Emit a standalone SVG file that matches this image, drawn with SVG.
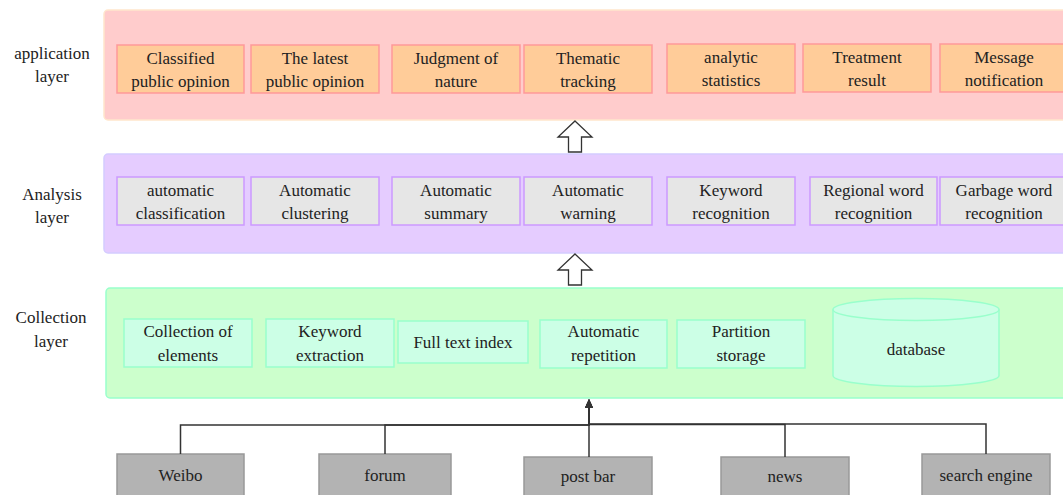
<svg xmlns="http://www.w3.org/2000/svg" width="1063" height="495" viewBox="0 0 1063 495">
<style>
text{font-family:'Liberation Serif','Times New Roman',Tinos,'Noto Serif','Nimbus Roman','FreeSerif',Times,'DejaVu Serif',serif;font-size:17px;fill:#222;text-anchor:middle}
.pa{fill:#FFCCCC;stroke:#FFE6CC;stroke-width:1.5}
.pb{fill:#E5CCFF;stroke:#D4CCFF;stroke-width:1.5}
.pc{fill:#CCFFCC;stroke:#99FFCC;stroke-width:1.5}
.na{fill:#FFCC99;stroke:#FF9999;stroke-width:1.5}
.nb{fill:#E6E6E6;stroke:#CC99FF;stroke-width:1.5}
.nc{fill:#CCFFE6;stroke:#99FFCC;stroke-width:1.5}
.ns{fill:#B3B3B3;stroke:#999999;stroke-width:1.5}
.blk{fill:#FFFFFF;stroke:#333333;stroke-width:1.3}
.edge{fill:none;stroke:#333333;stroke-width:1.5}
</style>
<defs>
<marker id="ah" markerWidth="8" markerHeight="10" refX="4" refY="9" orient="0" markerUnits="userSpaceOnUse">
<path d="M0,9 L4,0 L8,9 Z" fill="#333333"/>
</marker>
</defs>

<g id="layer-labels">
<text x="52" y="59">application</text><text x="52" y="82">layer</text>
<text x="52" y="200">Analysis</text><text x="52" y="223">layer</text>
<text x="51" y="323">Collection</text><text x="51" y="347">layer</text>
</g>

<g id="application-layer"><rect class="pa" x="104" y="10" width="970" height="110" rx="4"/></g>
<g id="analysis-layer"><rect class="pb" x="104" y="154" width="970" height="99" rx="4"/></g>
<g id="collection-layer"><rect class="pc" x="106" y="288" width="970" height="110" rx="4"/></g>

<g id="app-classified"><rect class="na" x="117" y="45" width="127" height="48"/><text x="180.5" y="64">Classified</text><text x="180.5" y="87">public opinion</text></g>
<g id="app-latest"><rect class="na" x="251" y="45" width="128" height="48"/><text x="315" y="64">The latest</text><text x="315" y="87">public opinion</text></g>
<g id="app-judgment"><rect class="na" x="392" y="45" width="128" height="48"/><text x="456" y="64">Judgment of</text><text x="456" y="87">nature</text></g>
<g id="app-thematic"><rect class="na" x="524" y="45" width="128" height="48"/><text x="588" y="64">Thematic</text><text x="588" y="87">tracking</text></g>
<g id="app-analytic"><rect class="na" x="667" y="44" width="128" height="49"/><text x="731" y="63">analytic</text><text x="731" y="86">statistics</text></g>
<g id="app-treatment"><rect class="na" x="803" y="44" width="128" height="48"/><text x="867" y="63">Treatment</text><text x="867" y="86">result</text></g>
<g id="app-message"><rect class="na" x="940" y="44" width="128" height="48"/><text x="1004" y="63">Message</text><text x="1004" y="86">notification</text></g>

<g id="ana-classification"><rect class="nb" x="117" y="177" width="127" height="48"/><text x="180.5" y="196">automatic</text><text x="180.5" y="219">classification</text></g>
<g id="ana-clustering"><rect class="nb" x="251" y="177" width="128" height="48"/><text x="315" y="196">Automatic</text><text x="315" y="219">clustering</text></g>
<g id="ana-summary"><rect class="nb" x="392" y="177" width="128" height="48"/><text x="456" y="196">Automatic</text><text x="456" y="219">summary</text></g>
<g id="ana-warning"><rect class="nb" x="524" y="177" width="128" height="48"/><text x="588" y="196">Automatic</text><text x="588" y="219">warning</text></g>
<g id="ana-keyword"><rect class="nb" x="667" y="177" width="128" height="48"/><text x="731" y="196">Keyword</text><text x="731" y="219">recognition</text></g>
<g id="ana-regional"><rect class="nb" x="810" y="177" width="127" height="48"/><text x="873.5" y="196">Regional word</text><text x="873.5" y="219">recognition</text></g>
<g id="ana-garbage"><rect class="nb" x="940" y="177" width="128" height="48"/><text x="1004" y="196">Garbage word</text><text x="1004" y="219">recognition</text></g>

<g id="col-elements"><rect class="nc" x="124" y="319" width="128" height="48"/><text x="188" y="337">Collection of</text><text x="188" y="361">elements</text></g>
<g id="col-keyword"><rect class="nc" x="266" y="319" width="128" height="48"/><text x="330" y="337">Keyword</text><text x="330" y="361">extraction</text></g>
<g id="col-fulltext"><rect class="nc" x="398" y="321" width="130" height="42"/><text x="463" y="348">Full text index</text></g>
<g id="col-repetition"><rect class="nc" x="540" y="320" width="127" height="48"/><text x="603.5" y="337">Automatic</text><text x="603.5" y="361">repetition</text></g>
<g id="col-partition"><rect class="nc" x="677" y="320" width="128" height="48"/><text x="741" y="337">Partition</text><text x="741" y="361">storage</text></g>
<g id="col-database">
<path class="nc" d="M833,309.5 A83,11 0 0 1 999,309.5 V375.5 A83,11 0 0 1 833,375.5 Z"/>
<path d="M833,309.5 A83,11 0 0 0 999,309.5" fill="none" stroke="#99FFCC" stroke-width="1.5"/>
<text x="916" y="355">database</text>
</g>

<g id="src-weibo"><rect class="ns" x="117" y="454" width="127" height="42"/><text x="180.5" y="481">Weibo</text></g>
<g id="src-forum"><rect class="ns" x="319" y="454" width="132" height="42"/><text x="385" y="481">forum</text></g>
<g id="src-postbar"><rect class="ns" x="524" y="457" width="128" height="40"/><text x="588" y="482">post bar</text></g>
<g id="src-news"><rect class="ns" x="721" y="457" width="128" height="40"/><text x="785" y="482">news</text></g>
<g id="src-search"><rect class="ns" x="922" y="454" width="128" height="42"/><text x="986" y="481">search engine</text></g>

<g id="connectors">
<path class="blk" d="M575,121 L592,137 L581.5,137 L581.5,152 L568.5,152 L568.5,137 L558,137 Z"/>
<path class="blk" d="M575,254 L592,270 L581.5,270 L581.5,285 L568.5,285 L568.5,270 L558,270 Z"/>
<path class="edge" d="M180.5,454 V425 H589 V408" marker-end="url(#ah)"/>
<path class="edge" d="M385,454 V425 H589 V408" marker-end="url(#ah)"/>
<path class="edge" d="M589,457 V408" marker-end="url(#ah)"/>
<path class="edge" d="M785,457 V424.5 H589 V408" marker-end="url(#ah)"/>
<path class="edge" d="M986,454 V424 H589 V408" marker-end="url(#ah)"/>
</g>
</svg>
